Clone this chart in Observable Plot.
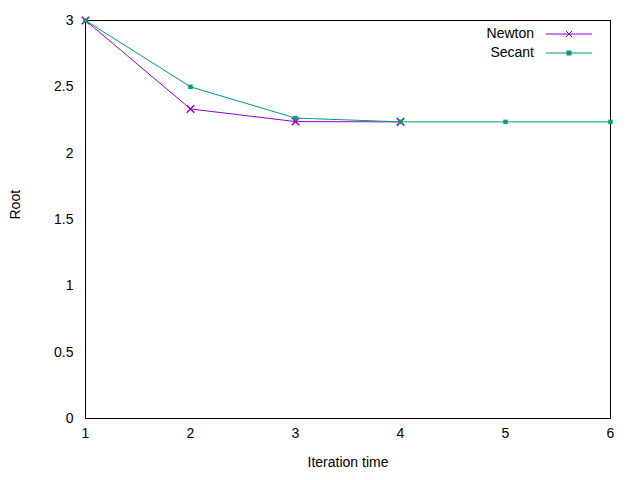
<!DOCTYPE html>
<html lang="en">
<head>
<meta charset="UTF-8">
<title>Newton vs Secant</title>
<style>
  body { margin: 0; background: #fff; font-family: 'Liberation Sans', Arial, sans-serif; }
  #chart { position: relative; width: 640px; height: 480px; }
  .legend { position: absolute; right: 48px; top: 24px; font-size: 14px; line-height: 19px; text-align: right; }
  .legend div { display: flex; align-items: center; justify-content: flex-end; }
  .legend svg { margin-left: 12px; }
</style>
<script src="https://cdn.jsdelivr.net/npm/d3@7"></script>
<script src="https://cdn.jsdelivr.net/npm/@observablehq/plot@0.6"></script>
</head>
<body>
<div id="chart"></div>
<script>
// Data
const newtonIter = [1, 2, 3, 4];
const newtonRoot = [3, 2.3333, 2.2381, 2.2361];
const secantIter = [1, 2, 3, 4, 5, 6];
const secantRoot = [3, 2.5, 2.2647, 2.2361, 2.2361, 2.2361];
const xTicks = [1, 2, 3, 4, 5, 6];
const yTicks = [0, 0.5, 1, 1.5, 2, 2.5, 3];

const newtonColor = "#9400d3";
const secantColor = "#009e73";

const newton = newtonIter.map((x, i) => ({x, y: newtonRoot[i]}));
const secant = secantIter.map((x, i) => ({x, y: secantRoot[i]}));

const plot = Plot.plot({
  width: 640,
  height: 480,
  marginLeft: 85,
  marginRight: 30,
  marginTop: 20,
  marginBottom: 62,
  style: {fontSize: "14px", fontFamily: "'Liberation Sans', Arial, sans-serif", color: "#000"},
  x: {domain: [1, 6]},
  y: {domain: [0, 3]},
  marks: [
    Plot.frame({stroke: "#000"}),
    Plot.axisX({ticks: xTicks, tickFormat: d => d, tickSize: 0, tickPadding: 10, label: null}),
    Plot.axisY({ticks: yTicks, tickFormat: d => d, tickSize: 0, tickPadding: 12, label: null}),
    Plot.line(newton, {x: "x", y: "y", stroke: newtonColor, strokeWidth: 1}),
    Plot.dot(newton, {x: "x", y: "y", symbol: "times", stroke: newtonColor, r: 3.5}),
    Plot.line(secant, {x: "x", y: "y", stroke: secantColor, strokeWidth: 1}),
    Plot.dot(secant, {x: "x", y: "y", symbol: "square", fill: secantColor, r: 2.5}),
    Plot.text(["Iteration time"], {frameAnchor: "bottom", dy: 48, fontSize: 14}),
    Plot.text(["Root"], {frameAnchor: "left", dx: -70, rotate: -90, fontSize: 14})
  ]
});
document.getElementById("chart").appendChild(plot);

const legend = document.createElement("div");
legend.className = "legend";
legend.innerHTML = `
  <div>Newton<svg width="46" height="12"><line x1="0" y1="6" x2="46" y2="6" stroke="${newtonColor}"/><path d="M20,3L26,9M26,3L20,9" stroke="${newtonColor}"/></svg></div>
  <div>Secant<svg width="46" height="12"><line x1="0" y1="6" x2="46" y2="6" stroke="${secantColor}"/><rect x="20.5" y="3.5" width="5" height="5" fill="${secantColor}"/></svg></div>`;
document.getElementById("chart").appendChild(legend);
</script>
</body>
</html>
